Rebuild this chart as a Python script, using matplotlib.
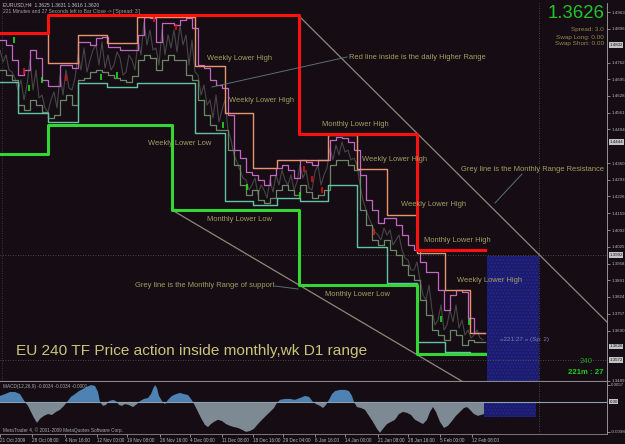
import numpy as np
import matplotlib
matplotlib.use('Agg')
import matplotlib.pyplot as plt
from matplotlib.patches import Rectangle

plt.rcParams['font.family'] = ['Liberation Sans', 'DejaVu Sans']

# prices in points (1 point = 0.0001), x = bar index on the H4 chart
monthly_high_x = [0, 48, 299, 417]
monthly_high = [14880, 14952, 14476, 14012]
monthly_low_x = [0, 48, 172, 299, 417]
monthly_low = [14396, 14512, 14172, 13872, 13596]

week_x = [0, 18, 48, 78, 107, 137, 167, 195, 225, 253, 277, 300, 328, 357, 387, 417, 445, 470]
week_high = [14880, 14880, 14760, 14872, 14840, 14944, 14944, 14748, 14560, 14340,
             14372, 14372, 14472, 14336, 14152, 14000, 13852, 13680]
week_low = [14684, 14560, 14524, 14680, 14664, 14680, 14680, 14480, 14208, 14192,
            14220, 14208, 14272, 14024, 13880, 13644, 13604, 13600]

day_high = [14852, 14832, 14772, 14712, 14732, 14812, 14780, 14692, 14668, 14668,
            14752, 14752, 14740, 14844, 14844, 14832, 14860, 14864, 14824, 14824,
            14812, 14812, 14812, 14872, 14944, 14940, 14844, 14920, 14920, 14912,
            14932, 14940, 14900, 14752, 14740, 14692, 14672, 14660, 14552, 14412,
            14380, 14324, 14312, 14292, 14272, 14312, 14340, 14352, 14332, 14300,
            14372, 14364, 14352, 14372, 14372, 14452, 14464, 14460, 14444, 14412,
            14312, 14212, 14172, 14120, 14140, 14140, 14112, 14072, 14032, 14012,
            13964, 13924, 13924, 13852, 13772, 13832, 13852, 13844, 13740, 13680,
            13680]
day_low = [14732, 14712, 14692, 14592, 14572, 14612, 14592, 14564, 14540, 14552,
           14612, 14632, 14592, 14692, 14700, 14724, 14732, 14724, 14712, 14700,
           14692, 14684, 14708, 14772, 14792, 14780, 14732, 14772, 14792, 14772,
           14772, 14712, 14692, 14612, 14552, 14512, 14492, 14492, 14412, 14352,
           14272, 14232, 14252, 14212, 14200, 14220, 14252, 14272, 14252, 14232,
           14272, 14244, 14220, 14232, 14252, 14352, 14372, 14372, 14352, 14332,
           14172, 14112, 14052, 14032, 14052, 14012, 13992, 13952, 13912, 13892,
           13812, 13752, 13692, 13672, 13652, 13692, 13672, 13632, 13652, 13644,
           13644]

close = [14812, 14764, 14792, 14732, 14724, 14700, 14652, 14692, 14612, 14672,
         14772, 14652, 14732, 14620, 14632, 14580, 14564, 14612, 14644, 14580,
         14712, 14632, 14732, 14660, 14652, 14700, 14792, 14732, 14820, 14724,
         14772, 14812, 14832, 14752, 14844, 14740, 14792, 14732, 14752, 14804,
         14780, 14712, 14724, 14792, 14772, 14732, 14852, 14792, 14924, 14832,
         14892, 14812, 14820, 14752, 14892, 14792, 14872, 14820, 14892, 14804,
         14912, 14832, 14872, 14752, 14852, 14724, 14712, 14632, 14672, 14592,
         14612, 14540, 14632, 14524, 14572, 14612, 14492, 14452, 14392, 14364,
         14332, 14300, 14292, 14252, 14272, 14300, 14232, 14272, 14252, 14220,
         14292, 14244, 14312, 14272, 14332, 14292, 14272, 14312, 14252, 14284,
         14352, 14300, 14332, 14260, 14252, 14324, 14352, 14272, 14312, 14340,
         14420, 14372, 14432, 14392, 14444, 14404, 14412, 14372, 14380, 14352,
         14272, 14212, 14172, 14140, 14112, 14084, 14072, 14052, 14100, 14072,
         14092, 14032, 14052, 14072, 14012, 13980, 13972, 13932, 13932, 13964,
         13892, 13832, 13812, 13872, 13772, 13712, 13732, 13792, 13692, 13712,
         13772, 13724, 13792, 13700, 13732, 13672, 13692, 13660, 13672, 13692,
         13660, 13652]

up_marks_x = [14, 29, 42, 101, 117, 223, 247, 300, 441, 469]
up_marks = [14852, 14660, 14692, 14704, 14712, 14512, 14264, 14232, 13736, 13724]
dn_marks_x = [24, 66, 154, 176, 304, 312, 322, 374]
dn_marks = [14728, 14700, 14936, 14904, 14336, 14296, 14252, 14084]

resist_x = [299, 607]
resist = [14948, 13724]
support_x = [172, 470]
support = [14172, 13468]

macd_x = [0, 5, 10, 15, 20, 23, 25, 28, 31, 34, 37, 40, 44, 48, 52, 56, 60, 64, 67, 71,
          75, 79, 83, 87, 91, 95, 98, 100, 103, 106, 109, 113, 116, 119, 122, 125, 129, 133, 137, 140,
          144, 148, 151, 153, 155, 157, 159, 162, 165, 168, 172, 176, 180, 184, 188, 191, 193, 197, 201, 205,
          208, 211, 214, 218, 222, 226, 230, 234, 238, 242, 246, 250, 254, 258, 262, 266, 270, 274, 277, 280,
          285, 290, 295, 300, 305, 309, 313, 316, 320, 323, 326, 329, 332, 335, 340, 345, 349, 352, 354, 357,
          361, 365, 369, 373, 377, 380, 383, 387, 391, 395, 399, 403, 407, 411, 415, 419, 423, 427, 430, 433,
          436, 440, 444, 448, 452, 456, 460, 464, 467, 470, 474, 478, 481, 484]
macd = [20, 26, 33, 33, 26, 10, 0, -13, -33, -53, -69, -56, -46, -40, -43, -33, -26, -13, 0, 17,
        26, 36, 43, 50, 56, 53, 33, 0, -13, -10, 3, 7, 3, -10, -13, -7, -10, -17, -7, 3,
        10, 13, 26, 43, 56, 46, 20, 3, -7, 7, 20, 26, 30, 26, 23, 10, 0, -26, -53, -76,
        -83, -73, -66, -59, -63, -73, -79, -83, -86, -92, -99, -96, -89, -73, -59, -46, -33, -20, -3, 7,
        10, 10, 7, 13, 20, 17, 0, -7, -13, -20, -10, 7, 26, 36, 40, 40, 36, 20, 0, -17,
        -20, -26, -46, -66, -89, -102, -89, -73, -66, -59, -40, -33, -36, -43, -59, -66, -73, -59, -33, -17,
        -33, -66, -86, -79, -63, -46, -33, -20, -17, -26, -40, -46, -43, -40]

time_ticks = [0, 32, 65, 97, 127, 160, 190, 222, 253, 283, 315, 345, 378, 408, 440, 472]
time_labels = ['21 Oct 2009', '28 Oct 08:00', '4 Nov 16:00', '12 Nov 00:00', '19 Nov 08:00',
               '26 Nov 16:00', '4 Dec 00:00', '11 Dec 08:00', '18 Dec 16:00', '29 Dec 04:00',
               '6 Jan 16:00', '14 Jan 00:00', '21 Jan 08:00', '28 Jan 16:00', '5 Feb 00:00',
               '12 Feb 08:00']
price_ticks = [1.3489, 1.3556, 1.3623, 1.3690, 1.3757, 1.3824, 1.3891, 1.3958, 1.4025, 1.4092,
               1.4159, 1.4226, 1.4293, 1.4360, 1.4427, 1.4494, 1.4561, 1.4628, 1.4695, 1.4762,
               1.4829, 1.4896, 1.4963]
boxed_levels = [1.4832, 1.4444, 1.3992, 1.3626, 1.3572]
hlines = [1.3992, 1.3572]

last_bar = 485
bg = '#150d13'
P = lambda v: np.array(v) / 10000.0


def steps(xs, vals):
    return list(xs) + [last_bar], list(P(vals)) + [P(vals)[-1]]


W, H = 625, 444
fig = plt.figure(figsize=(6.25, 4.44), dpi=100, facecolor=bg)
ax = fig.add_axes([0, 63 / H, 607 / W, 378 / H], facecolor=bg)
ax.set_xlim(0, 607)
ax.set_ylim(1.3488, 1.5000)

# blue box on the right
ax.add_patch(Rectangle((487, 1.3400), 52, 1.3988 - 1.3400, facecolor='#1b1b6c',
                       edgecolor='#26268c', hatch='.....', lw=0, zorder=1))

for lv in hlines:
    ax.axhline(lv, color='#5a5a5a', lw=0.6, ls=(0, (1, 2)), zorder=1)
ax.axvline(539, color='#5a5a5a', lw=0.6, ls=(0, (1, 2)), zorder=1)
ax.axvline(2, color='#4a4a4a', lw=0.6, ls=(0, (1, 2)), zorder=1)

ax.plot(resist_x, P(resist), color='#8a8a78', lw=0.9, zorder=2)
ax.plot(support_x, P(support), color='#8a8a78', lw=0.9, zorder=2)

ax.plot(np.arange(len(close)) * 3, P(close), color='#464646', lw=0.8, zorder=3)
dx = np.arange(len(day_high)) * 6
x, y = steps(dx, day_low)
ax.step(x, y, where='post', color='#6a8868', lw=0.9, zorder=4)
x, y = steps(dx, day_high)
ax.step(x, y, where='post', color='#c466c4', lw=0.9, zorder=4)
x, y = steps(week_x, week_low)
ax.step(x, y, where='post', color='#62c4a4', lw=1.0, zorder=5)
x, y = steps(week_x, week_high)
ax.step(x, y, where='post', color='#e8946e', lw=1.0, zorder=5)
x, y = steps(monthly_low_x, monthly_low)
ax.step(x, y, where='post', color='#33d633', lw=2.2, zorder=6)
x, y = steps(monthly_high_x, monthly_high)
ax.step(x, y, where='post', color='#ff1010', lw=2.2, zorder=6)

ax.scatter(up_marks_x, P(up_marks), marker='|', s=14, color='#20e020', lw=1.2, zorder=7)
ax.scatter(dn_marks_x, P(dn_marks), marker='|', s=14, color='#e01010', lw=1.2, zorder=7)

# annotations
note_c = '#a39f62'
notes = [
    (207, 14780, 'Weekly Lower High'),
    (229, 14608, 'Weekly Lower High'),
    (349, 14784, 'Red line inside is the daily Higher Range'),
    (322, 14512, 'Monthly Lower High'),
    (362, 14372, 'Weekly Lower High'),
    (461, 14332, 'Grey line is the Monthly Range Resistance'),
    (401, 14192, 'Weekly Lower High'),
    (424, 14048, 'Monthly Lower High'),
    (457, 13888, 'Weekly Lower High'),
    (148, 14440, 'Weekly Lower Low'),
    (207, 14136, 'Monthly Lower Low'),
    (325, 13836, 'Monthly Lower Low'),
    (135, 13868, 'Grey line is the Monthly Range of support'),
]
for nx, ny, s in notes:
    ax.text(nx, ny / 10000, s, color=note_c, fontsize=5.4, va='center', ha='left', zorder=8)
for (x0, y0), (x1, y1) in [((212, 14664), (347, 14784)), ((495, 14200), (522, 14316)),
                           ((275, 13868), (298, 13856))]:
    ax.plot([x0, x1], [y0 / 10000, y1 / 10000], color='#5b6e7a', lw=0.7, zorder=8)

ax.text(16, 1.3608, 'EU 240 TF Price action inside monthly,wk D1 range', color='#cbc47c',
        fontsize=11.1, va='center', ha='left', zorder=8)
ax.text(500, 1.3656, '\u00ab221:27 \u00bb (Sp: 2)', color='#7c7ca2', fontsize=4.6,
        va='center', ha='left', zorder=8)

# right price scale, plain ticks skipped where a boxed level sits
ax.set_xticks([])
ax.yaxis.tick_right()
shown_ticks = [t for t in price_ticks if min(abs(t - b) for b in boxed_levels) > 0.0025]
ax.set_yticks(shown_ticks)
ax.set_yticklabels(['%.4f' % v for v in shown_ticks])
ax.tick_params(axis='y', colors='#b8b8b8', labelsize=3.2, length=2, width=0.5, pad=1)
for lv in boxed_levels:
    ax.text(1.004, lv, '%.4f' % lv, transform=ax.get_yaxis_transform(), fontsize=3.2,
            color='#141414', va='center', ha='left',
            bbox=dict(facecolor='#c4c4c4', edgecolor='none', pad=0.4), clip_on=False)
for side in ['left', 'top']:
    ax.spines[side].set_visible(False)
ax.spines['right'].set_color('#a8a8a8')
ax.spines['right'].set_linewidth(0.6)
ax.spines['bottom'].set_color('#8a8a8a')
ax.spines['bottom'].set_linewidth(0.8)

# MACD panel
axm = fig.add_axes([0, 10 / H, 607 / W, 52 / H], facecolor=bg)
axm.set_xlim(0, 607)
axm.set_ylim(-0.0106, 0.0066)
mv = np.array(macd) / 10000.0
axm.fill_between(macd_x, mv, 0, where=mv >= 0, interpolate=True, color='#4d82b2', lw=0)
axm.fill_between(macd_x, mv, 0, where=mv <= 0, interpolate=True, color='#7d8993', lw=0)
axm.add_patch(Rectangle((484, -0.0050), 52, 0.0050, facecolor='#1b1b6c',
                        edgecolor='#26268c', hatch='.....', lw=0, zorder=3))
axm.axhline(0, color='#8ea2b4', lw=0.8, zorder=4)
axm.axvline(539, color='#5a5a5a', lw=0.6, ls=(0, (1, 2)))
axm.yaxis.tick_right()
axm.set_yticks([0.0057, -0.0098])
axm.set_yticklabels(['0.0057', '-0.0098'])
axm.tick_params(axis='y', colors='#b8b8b8', labelsize=3.2, length=2, width=0.5, pad=1)
axm.text(1.004, 0.0, '0.00', transform=axm.get_yaxis_transform(), fontsize=3.2,
         color='#141414', va='center', ha='left',
         bbox=dict(facecolor='#c4c4c4', edgecolor='none', pad=0.4), clip_on=False)
axm.set_xticks(time_ticks)
axm.set_xticklabels(time_labels)
axm.tick_params(axis='x', colors='#b8b8b8', labelsize=3.3, length=2, width=0.5, pad=1)
for lbl in axm.get_xticklabels():
    lbl.set_ha('left')
for side in ['left', 'top']:
    axm.spines[side].set_visible(False)
axm.spines['right'].set_color('#a8a8a8')
axm.spines['right'].set_linewidth(0.6)
axm.spines['bottom'].set_color('#8a8a8a')
axm.spines['bottom'].set_linewidth(0.6)
axm.text(3, 0.0060, 'MACD(12,26,9) -0.0034 -0.0034 -0.0001', color='#a8a8a8',
         fontsize=3.4, va='top', ha='left')
axm.text(3, -0.0094, 'MetaTrader 4, \u00a9 2001-2009 MetaQuotes Software Corp.', color='#a8a8a8',
         fontsize=3.4, va='center', ha='left')

# header texts
fig.text(3 / W, 1 - 5 / H, 'EURUSD,H4  1.3625 1.3631 1.3616 1.3620', color='#c0c0c0',
         fontsize=3.6, va='center', ha='left')
fig.text(3 / W, 1 - 11 / H, "221 Minutes and 27 Seconds left to Bar Close -> ['Spread: 3']",
         color='#a0a0a0', fontsize=3.6, va='center', ha='left')
fig.text(605 / W, 1 - 14 / H, '1.3626', color='#22c42a', fontsize=13.4, va='center', ha='right')
for yy, s in [(29, 'Spread: 3.0'), (37, 'Swap Long: 0.00'), (44, 'Swap Short: 0.00')]:
    fig.text(604 / W, 1 - yy / H, s, color='#8c8a4c', fontsize=4.6, va='center', ha='right')
fig.text(593 / W, 1 - 361 / H, '240', color='#1e9e22', fontsize=5.6, va='center', ha='right')
fig.text(603 / W, 1 - 372 / H, '221m : 27', color='#22cc22', fontsize=5.6, weight='bold',
         va='center', ha='right')

fig.savefig('out.png', dpi=100, facecolor=bg)
